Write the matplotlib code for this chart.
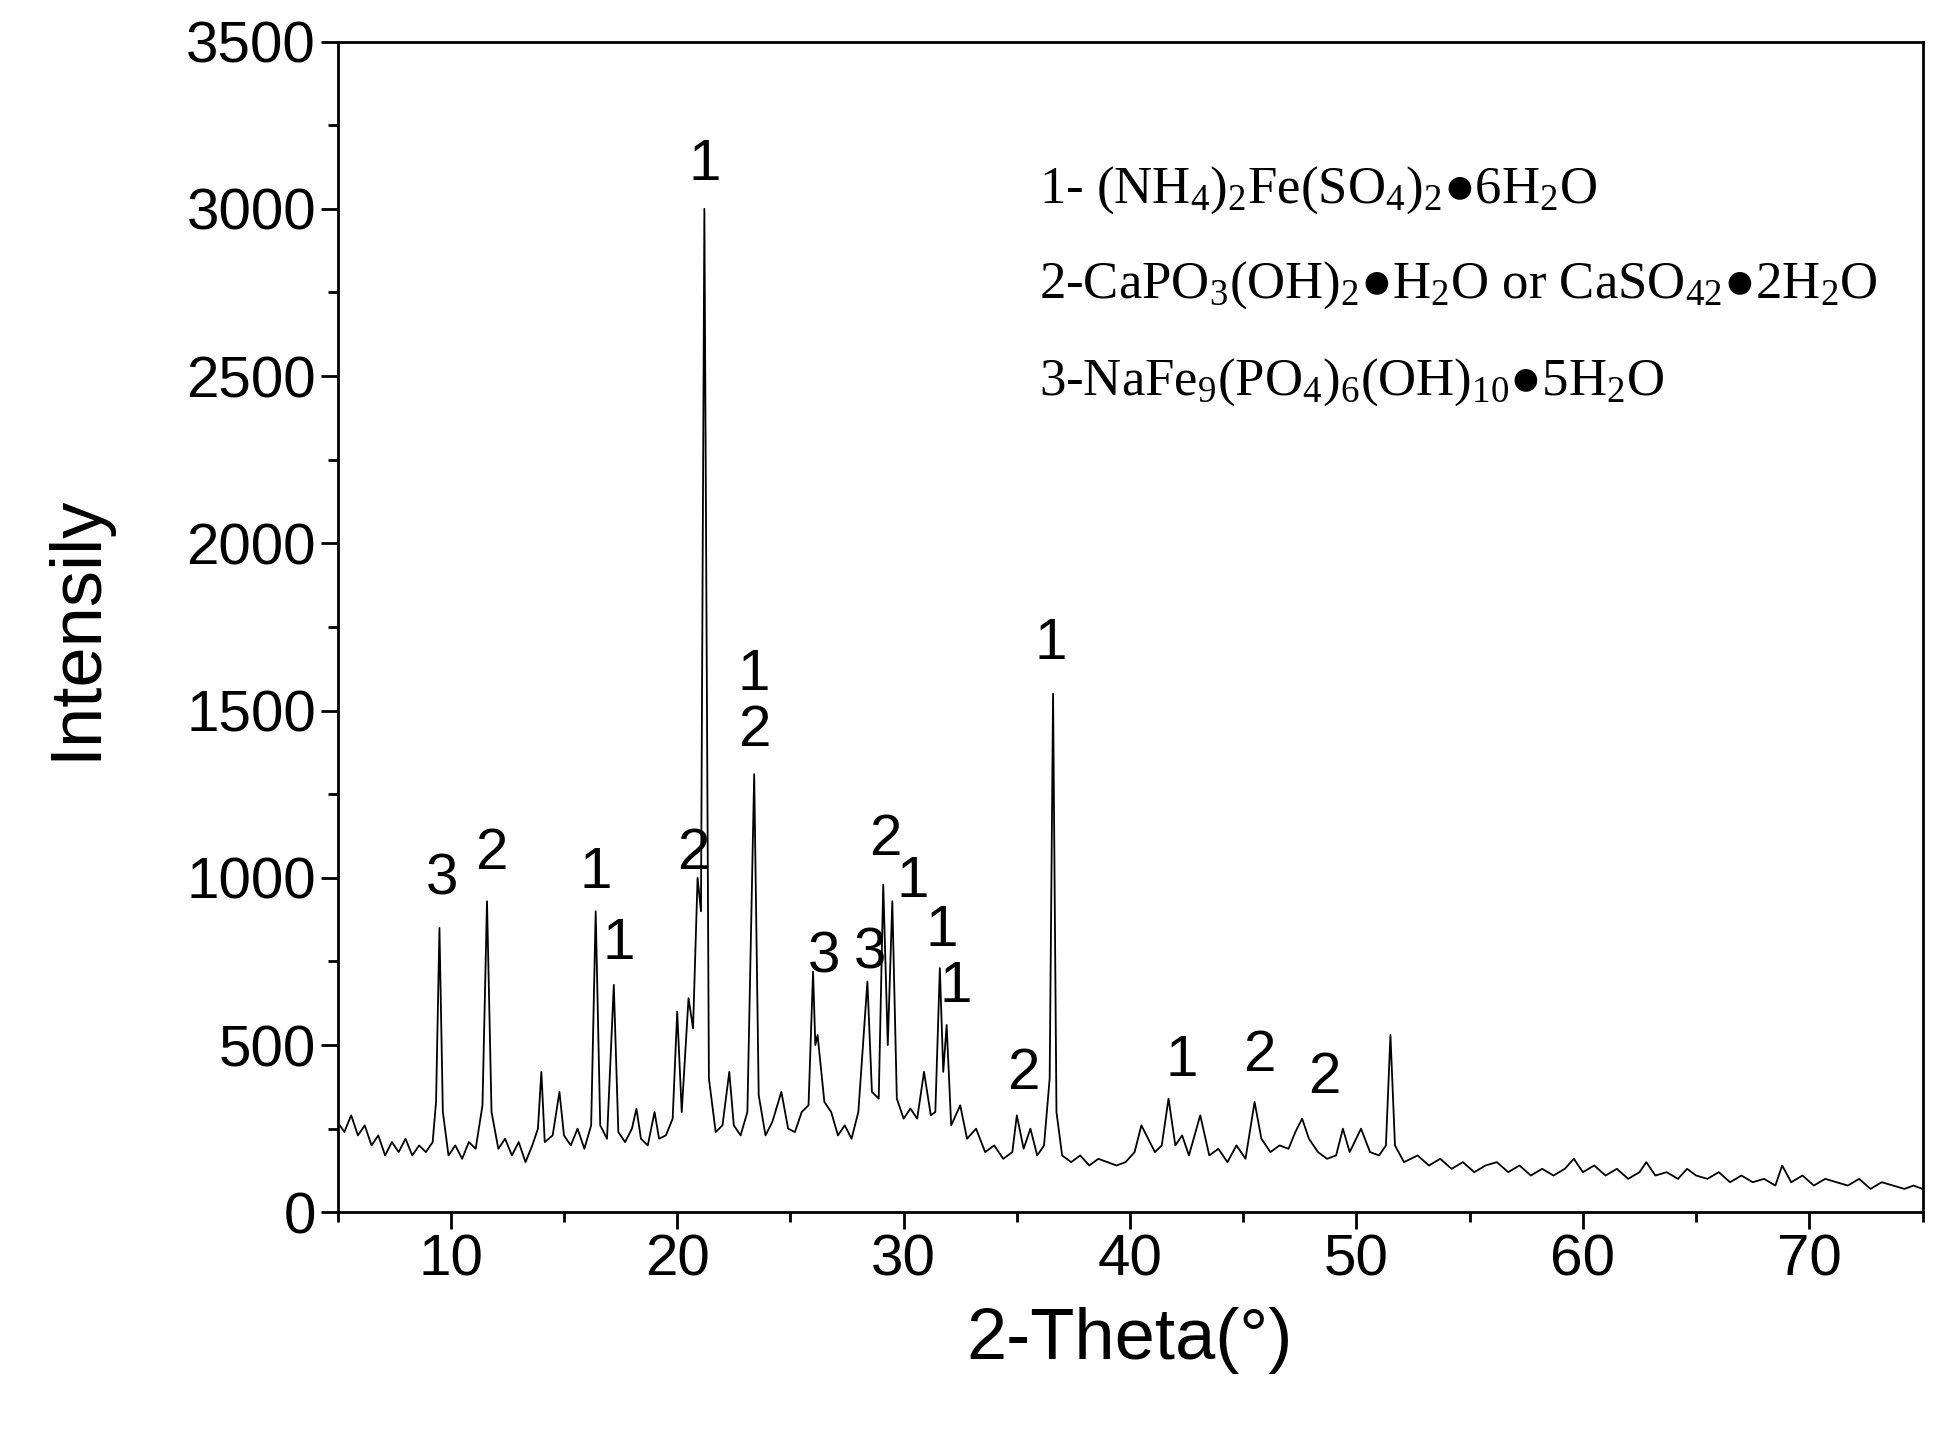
import matplotlib
matplotlib.use('Agg')
import matplotlib.pyplot as plt
from matplotlib.ticker import MultipleLocator

# XRD trace (2-theta, intensity)
two_theta = [5.0, 5.3, 5.6, 5.9, 6.2, 6.5, 6.8, 7.1, 7.4, 7.7, 8.0, 8.3, 8.6, 8.9, 9.2, 9.35, 9.5, 9.65, 9.9, 10.2,
             10.5, 10.8, 11.1, 11.4, 11.6, 11.8, 12.1, 12.4, 12.7, 13.0, 13.3, 13.6, 13.85, 14.0, 14.15, 14.5, 14.8, 15.0,
             15.3, 15.6, 15.9, 16.2, 16.4, 16.6, 16.9, 17.2, 17.4, 17.7, 18.0, 18.2, 18.4, 18.7, 19.0, 19.2, 19.5, 19.8,
             20.0, 20.2, 20.5, 20.7, 20.9, 21.05, 21.2, 21.4, 21.7, 22.0, 22.3, 22.5, 22.8, 23.1, 23.4, 23.6, 23.9, 24.2,
             24.6, 24.9, 25.2, 25.5, 25.8, 26.0, 26.1, 26.2, 26.5, 26.8, 27.1, 27.4, 27.7, 28.0, 28.4, 28.6, 28.9, 29.1,
             29.3, 29.5, 29.7, 30.0, 30.3, 30.6, 30.9, 31.2, 31.4, 31.6, 31.75, 31.9, 32.1, 32.5, 32.8, 33.2, 33.6, 34.0,
             34.4, 34.8, 35.0, 35.3, 35.6, 35.9, 36.2, 36.45, 36.6, 36.75, 37.0, 37.4, 37.8, 38.2, 38.6, 39.0, 39.4,
             39.8, 40.2, 40.5, 40.8, 41.1, 41.4, 41.7, 42.0, 42.3, 42.6, 43.1, 43.5, 43.9, 44.3, 44.7, 45.1, 45.5, 45.8,
             46.2, 46.6, 47.0, 47.3, 47.6, 47.9, 48.3, 48.7, 49.1, 49.4, 49.7, 50.2, 50.6, 51.0, 51.3, 51.5, 51.7, 52.1,
             52.7, 53.2, 53.7, 54.2, 54.7, 55.2, 55.7, 56.2, 56.7, 57.2, 57.7, 58.2, 58.7, 59.2, 59.6, 60.0, 60.5, 61.0,
             61.5, 62.0, 62.5, 62.8, 63.2, 63.7, 64.2, 64.6, 65.0, 65.5, 66.0, 66.5, 67.0, 67.5, 68.0, 68.5, 68.8, 69.2,
             69.7, 70.2, 70.7, 71.2, 71.7, 72.2, 72.7, 73.2, 73.7, 74.2, 74.6, 75.0]
intensity = [270, 240, 290, 230, 260, 200, 230, 170, 210, 180, 220, 170, 200, 180, 210, 330, 850, 300, 170, 200,
             160, 210, 190, 320, 930, 300, 190, 220, 170, 210, 150, 200, 250, 420, 210, 230, 360, 230,
             200, 250, 190, 260, 900, 260, 220, 680, 240, 210, 250, 310, 220, 200, 300, 220, 230, 280,
             600, 300, 640, 550, 1000, 900, 3000, 400, 240, 260, 420, 260, 230, 300, 1310, 350, 230, 270,
             360, 250, 240, 300, 320, 720, 500, 530, 330, 300, 230, 260, 220, 300, 690, 360, 340, 980,
             500, 930, 340, 280, 310, 280, 420, 290, 300, 730, 420, 560, 260, 320, 220, 250, 180, 200,
             160, 180, 290, 190, 250, 170, 200, 400, 1550, 300, 170, 150, 170, 140, 160, 150, 140,
             150, 180, 260, 220, 180, 200, 340, 200, 230, 170, 290, 170, 190, 150, 200, 160, 330, 220,
             180, 200, 190, 240, 280, 220, 180, 160, 170, 250, 180, 250, 180, 170, 200, 530, 200, 150,
             170, 140, 160, 130, 150, 120, 140, 150, 120, 140, 110, 130, 110, 130, 160, 120, 140, 110,
             130, 100, 120, 150, 110, 120, 100, 130, 110, 100, 120, 90, 110, 90, 100, 80, 140, 90,
             110, 80, 100, 90, 80, 100, 70, 90, 80, 70, 80, 70]

# peak labels: (x, y, text)
peak_x = [9.6, 11.8, 16.4, 17.4, 20.7, 21.2, 23.4, 23.4, 26.5, 28.5, 29.2, 30.4, 31.7, 32.3, 35.3, 36.5, 42.3, 45.7, 48.6]
peak_y = [995, 1070, 1015, 803, 1070, 3130, 1605, 1440, 762, 773, 1114, 988, 840, 673, 414, 1698, 451, 466, 403]
peak_txt = ['3', '2', '1', '1', '2', '1', '1', '2', '3', '3', '2', '1', '1', '1', '2', '1', '1', '2', '2']

legend_lines = [r'1- (NH$_4$)$_2$Fe(SO$_4$)$_2$●6H$_2$O',
                r'2-CaPO$_3$(OH)$_2$●H$_2$O or CaSO$_{42}$●2H$_2$O',
                r'3-NaFe$_9$(PO$_4$)$_6$(OH)$_{10}$●5H$_2$O']
legend_y = [3056, 2771, 2483]

plt.rcParams['font.family'] = ['Liberation Sans', 'DejaVu Sans']
plt.rcParams['mathtext.fontset'] = 'custom'
plt.rcParams['mathtext.rm'] = 'Liberation Serif'
plt.rcParams['mathtext.it'] = 'Liberation Serif'

fig = plt.figure(figsize=(19.4, 14.33), dpi=100)
ax = fig.add_axes([0.174, 0.154, 0.817, 0.817])
ax.plot(two_theta, intensity, color='black', linewidth=1.3)
ax.set_xlim(5, 75)
ax.set_ylim(0, 3500)
ax.xaxis.set_major_locator(MultipleLocator(10))
ax.xaxis.set_minor_locator(MultipleLocator(5))
ax.yaxis.set_major_locator(MultipleLocator(500))
ax.yaxis.set_minor_locator(MultipleLocator(250))
ax.tick_params(which='major', length=12, width=2, labelsize=42)
ax.tick_params(which='minor', length=7, width=2)
for s in ax.spines.values():
    s.set_linewidth(2)
ax.set_xlabel('2-Theta(°)', fontsize=52, labelpad=14)
ax.set_ylabel('Intensily', fontsize=52, labelpad=55)

for x, y, t in zip(peak_x, peak_y, peak_txt):
    ax.text(x, y, t, fontsize=42, ha='center', va='center')

for t, y in zip(legend_lines, legend_y):
    ax.text(36.0, y, t, fontsize=38, ha='left', va='center',
            family=['Liberation Serif', 'DejaVu Sans'])

fig.savefig('out.png', dpi=100)
